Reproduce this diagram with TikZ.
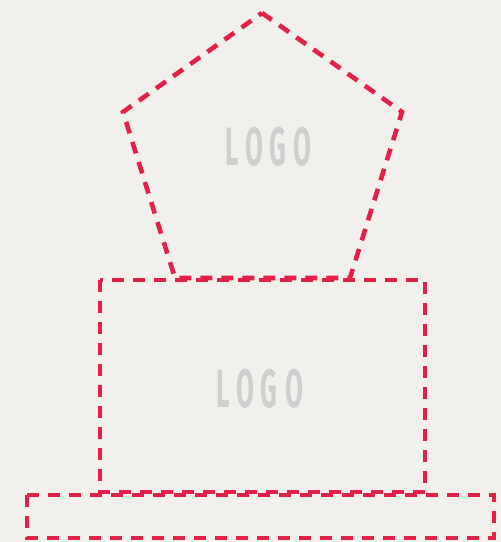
\documentclass[tikz,border=0pt]{standalone}
\usepackage{fontspec}
\newfontfamily\logofont{Fira Sans}
\definecolor{bg}{RGB}{242,240,236}
\definecolor{dash}{RGB}{226,32,72}
\definecolor{logogray}{RGB}{208,207,207}
\begin{document}
\begin{tikzpicture}[x=1pt,y=-1pt,
  outline/.style={draw=dash,line width=4.6pt,dash pattern=on 12pt off 9pt},
  letter/.style={text=logogray,font=\logofont\bfseries\fontsize{54}{54}\selectfont,xscale=0.48,inner sep=0pt,anchor=base}]
\fill[bg] (0,0) rectangle (501,542);
\useasboundingbox (0,0) rectangle (501,542);
% pentagon
\coordinate (pt) at (262,13);
\coordinate (pr) at (402,112);
\coordinate (pbr) at (350,278);
\coordinate (pbl) at (175,278);
\coordinate (pl) at (123,112);
\draw[outline] (pt) -- (pr) -- (pbr) -- (pbl) -- (pl) -- cycle;
% body rectangle
\coordinate (r1) at (100,280);
\coordinate (r2) at (425,492);
\draw[outline] (r1) rectangle (r2);
% base
\coordinate (b1) at (27,495);
\coordinate (b2) at (494,538);
\draw[outline] (b1) rectangle (b2);
% upper logo
\node[letter] (u1) at (232,165) {L};
\node[letter] (u2) at (254,165) {O};
\node[letter] (u3) at (278,165) {G};
\node[letter] (u4) at (302,165) {O};
% lower logo
\node[letter] (l1) at (223,407) {L};
\node[letter] (l2) at (245,407) {O};
\node[letter] (l3) at (269,407) {G};
\node[letter] (l4) at (294,407) {O};
\end{tikzpicture}
\end{document}
